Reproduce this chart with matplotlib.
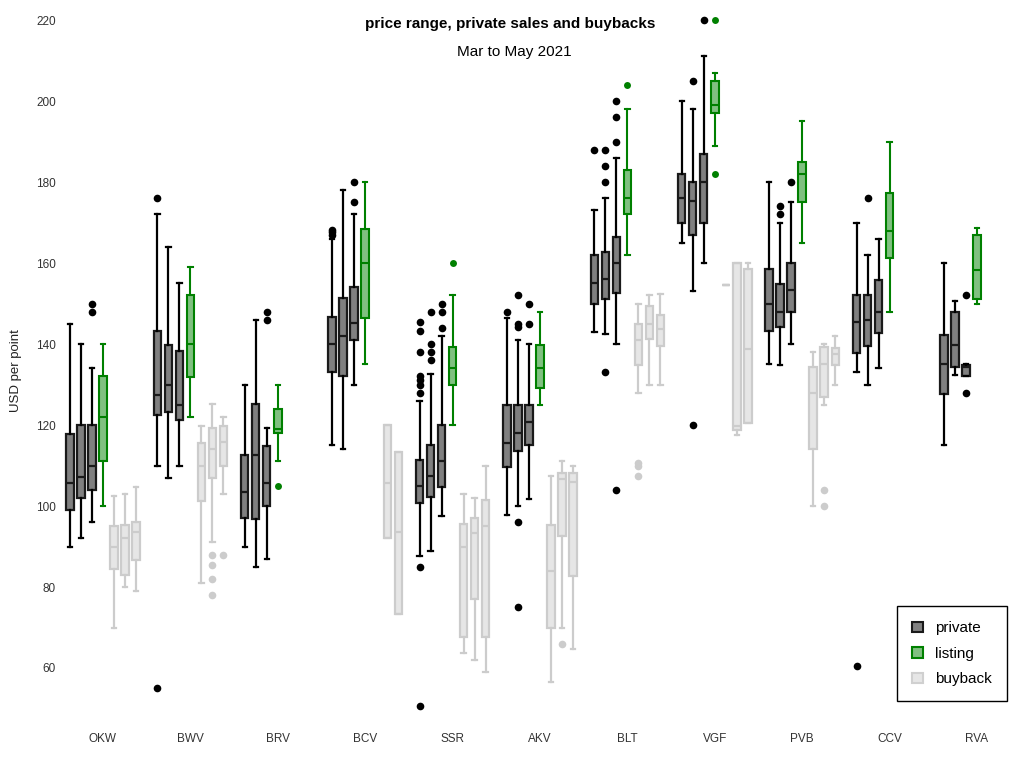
"""
Price range boxplots: private sales, listing and buybacks.
"""

import matplotlib
matplotlib.use("Agg")
import matplotlib.pyplot as plt
from matplotlib.patches import Patch

plt.rcParams['font.family'] = ['Liberation Sans', 'DejaVu Sans']

categories = ['OKW', 'BWV', 'BRV', 'BCV', 'SSR', 'AKV', 'BLT', 'VGF', 'PVB', 'CCV', 'RVA']

# (category, month 0=Mar 1=Apr 2=May, whislo, q1, median, q3, whishi)
private_boxes = [
    ('OKW', 0, 90, 99, 105.8, 117.8, 145),
    ('OKW', 1, 92, 102, 107.2, 120, 140),
    ('OKW', 2, 96, 104, 110, 120, 134),
    ('BWV', 0, 110, 122.5, 127.3, 143.1, 172),
    ('BWV', 1, 107, 123.3, 130, 139.8, 164),
    ('BWV', 2, 110, 121.2, 125, 138.3, 155),
    ('BRV', 0, 90, 97, 103.4, 112.5, 130),
    ('BRV', 1, 85, 96.8, 112.7, 125.2, 146),
    ('BRV', 2, 87, 100, 105.8, 114.8, 119.2),
    ('BCV', 0, 115, 133.2, 140, 146.7, 166),
    ('BCV', 1, 114, 132, 142, 151.4, 178),
    ('BCV', 2, 130, 141, 145.2, 154, 172),
    ('SSR', 0, 87.7, 100.8, 105, 111.4, 126),
    ('SSR', 1, 89, 102.2, 107.3, 115, 132.7),
    ('SSR', 2, 97.6, 104.8, 111, 120, 142),
    ('AKV', 0, 97.8, 109.7, 115.6, 125, 146.5),
    ('AKV', 1, 100, 113.6, 118, 125, 141),
    ('AKV', 2, 101.7, 115, 120.7, 125, 140),
    ('BLT', 0, 143, 150, 155, 162, 173),
    ('BLT', 1, 142.4, 151, 156, 162.6, 176),
    ('BLT', 2, 140, 152.5, 160, 166.4, 186),
    ('VGF', 0, 165, 170, 176, 182, 200),
    ('VGF', 1, 153, 167, 175.4, 180, 198),
    ('VGF', 2, 160, 170, 180, 187, 211),
    ('PVB', 0, 135, 143.1, 150, 158.5, 180),
    ('PVB', 1, 134.8, 144.3, 148, 154.8, 170),
    ('PVB', 2, 140, 148, 153.3, 160, 175),
    ('CCV', 0, 133, 137.8, 145.5, 152, 170),
    ('CCV', 1, 130, 139.6, 146, 152, 162),
    ('CCV', 2, 134, 142.8, 148, 155.8, 166),
    ('RVA', 0, 115, 127.6, 135, 142.2, 160),
    ('RVA', 1, 132.3, 134.2, 139.8, 147.8, 150.5),
    ('RVA', 2, 132, 132.2, 134.2, 134.8, 135),
]
private_fliers = {
    ('OKW', 2): [148, 150],
    ('BWV', 0): [176, 55],
    ('BRV', 2): [146, 148],
    ('BCV', 0): [167, 167.6, 168.2],
    ('BCV', 2): [175, 180],
    ('SSR', 0): [145.5, 143.2, 138, 132, 131, 130, 128, 85, 50.5],
    ('SSR', 1): [148, 140, 138, 136],
    ('SSR', 2): [144, 148, 150],
    ('AKV', 0): [148],
    ('AKV', 1): [152, 145, 144.3, 96, 75],
    ('AKV', 2): [145, 150],
    ('BLT', 0): [188],
    ('BLT', 1): [188, 184, 180, 133],
    ('BLT', 2): [190, 196, 200, 104],
    ('VGF', 1): [205, 120],
    ('VGF', 2): [220],
    ('PVB', 1): [172, 174],
    ('PVB', 2): [180],
    ('CCV', 0): [60.5],
    ('CCV', 1): [176],
    ('RVA', 2): [152, 128],
}

# (category, whislo, q1, median, q3, whishi)
listing_boxes = [
    ('OKW', 100, 111, 122, 132, 140),
    ('BWV', 122, 131.8, 140, 152, 159),
    ('BRV', 111, 118, 119, 124, 130),
    ('BCV', 135, 146.4, 160, 168.4, 180),
    ('SSR', 120, 130, 134, 139.3, 152),
    ('AKV', 125, 129.2, 134, 139.8, 148),
    ('BLT', 162, 172, 176, 183, 198),
    ('VGF', 189, 197, 199, 205, 207),
    ('PVB', 165, 175, 182, 185, 195),
    ('CCV', 148, 161.3, 168, 177.4, 190),
    ('RVA', 150, 151, 158.3, 167, 168.6),
]
listing_fliers = {
    'BRV': [105],
    'SSR': [160],
    'BLT': [204],
    'VGF': [220, 182],
}

# (category, month, whislo, q1, median, q3, whishi)
buyback_boxes = [
    ('OKW', 0, 70, 84.5, 90, 95, 102.5),
    ('OKW', 1, 80, 83, 92, 95.3, 103),
    ('OKW', 2, 79, 86.7, 93.7, 96, 104.6),
    ('BWV', 0, 81, 101.3, 110, 115.5, 119.8),
    ('BWV', 1, 91, 106.8, 114.1, 119.3, 125.2),
    ('BWV', 2, 103, 110, 115.8, 119.8, 122),
    ('BCV', 1, 92, 92, 105.8, 120, 120),
    ('BCV', 2, 73.3, 73.3, 93.5, 113.4, 113.4),
    ('SSR', 0, 63.8, 67.7, 90, 95.6, 103),
    ('SSR', 1, 62, 77, 93.3, 97, 102),
    ('SSR', 2, 59, 67.7, 95, 101.5, 110),
    ('AKV', 0, 56.5, 70, 84, 95.2, 107.5),
    ('AKV', 1, 69.8, 92.6, 106.6, 108.2, 111),
    ('AKV', 2, 64.8, 82.7, 106, 108.2, 110),
    ('BLT', 0, 128, 134.8, 141, 145, 150),
    ('BLT', 1, 130, 141.2, 145, 149.4, 152),
    ('BLT', 2, 130, 139.5, 143.8, 147.2, 152.3),
    ('VGF', 0, 154.5, 154.5, 154.5, 154.5, 154.5),
    ('VGF', 1, 117.5, 118.8, 119.8, 160, 160),
    ('VGF', 2, 120.6, 120.6, 138.8, 158.4, 160),
    ('PVB', 0, 100, 114, 127.8, 134.2, 138),
    ('PVB', 1, 125, 127, 135, 139.3, 140),
    ('PVB', 2, 130, 134.8, 137.5, 139, 142),
]
buyback_fliers = {
    ('BWV', 1): [88, 85.5, 82, 78],
    ('BWV', 2): [88],
    ('AKV', 1): [66],
    ('BLT', 0): [110.7, 110, 107.3],
    ('PVB', 1): [104, 100],
}

STEP = 0.126   # distance between neighbouring boxes
WIDTH = 0.085  # box width


def to_stats(whislo, q1, med, q3, whishi, fliers):
    return {'whislo': whislo, 'q1': q1, 'med': med, 'q3': q3,
            'whishi': whishi, 'fliers': fliers}


def draw(ax, stats, positions, face, edge, whisker, flier, lw, ms):
    ax.bxp(stats, positions=positions, widths=WIDTH, patch_artist=True,
           manage_ticks=False, capwidths=0.05,
           boxprops=dict(facecolor=face, edgecolor=edge, linewidth=lw),
           medianprops=dict(color=edge, linewidth=lw),
           whiskerprops=dict(color=whisker, linewidth=lw),
           capprops=dict(color=whisker, linewidth=lw),
           flierprops=dict(marker='o', markerfacecolor=flier,
                           markeredgecolor='none', markersize=ms))


def main():
    fig = plt.figure(figsize=(10.24, 7.68), dpi=100)
    ax = fig.add_axes([60 / 1024, 48 / 768, 955 / 1024, 708 / 768])

    # buyback first so the others sit on top
    stats, pos = [], []
    for cat, m, lo, q1, med, q3, hi in buyback_boxes:
        stats.append(to_stats(lo, q1, med, q3, hi, buyback_fliers.get((cat, m), [])))
        pos.append(categories.index(cat) + (m + 1) * STEP)
    draw(ax, stats, pos, '#e6e6e6', '#cccccc', '#cccccc', '#cccccc', 1.6, 5.5)

    stats, pos = [], []
    for cat, m, lo, q1, med, q3, hi in private_boxes:
        stats.append(to_stats(lo, q1, med, q3, hi, private_fliers.get((cat, m), [])))
        pos.append(categories.index(cat) + (m - 3) * STEP)
    draw(ax, stats, pos, '#808080', '#1a1a1a', '#000000', '#000000', 1.6, 5.5)

    stats, pos = [], []
    for cat, lo, q1, med, q3, hi in listing_boxes:
        stats.append(to_stats(lo, q1, med, q3, hi, listing_fliers.get(cat, [])))
        pos.append(categories.index(cat))
    draw(ax, stats, pos, '#80c080', '#008000', '#008000', '#008000', 1.5, 5)

    ax.set_xlim(-0.492, 10.435)
    ax.set_ylim(47.16, 221.98)
    ax.set_xticks(range(len(categories)))
    ax.set_xticklabels(categories)
    ax.set_yticks(range(60, 221, 20))
    ax.tick_params(axis='both', length=0, labelsize=8.5, labelcolor='#333333')
    ax.tick_params(axis='x', pad=9)
    ax.tick_params(axis='y', pad=3)
    for spine in ax.spines.values():
        spine.set_visible(False)

    ax.set_ylabel("USD per point", fontsize=9.5, color='#222222')
    ax.yaxis.set_label_coords(-0.040, 0.494)

    fig.text(510 / 1024, 1 - 24 / 768, "price range, private sales and buybacks",
             ha='center', va='center', fontsize=11, fontweight='bold')
    fig.text(514 / 1024, 1 - 52 / 768, "Mar to May 2021",
             ha='center', va='center', fontsize=11)

    handles = [
        Patch(facecolor='#808080', edgecolor='#1a1a1a', linewidth=1.5, label='private'),
        Patch(facecolor='#80c080', edgecolor='#008000', linewidth=1.5, label='listing'),
        Patch(facecolor='#e6e6e6', edgecolor='#d0d0d0', linewidth=1.5, label='buyback'),
    ]
    leg = fig.legend(handles=handles, loc='upper left',
                     bbox_to_anchor=(897 / 1024, 1 - 606 / 768),
                     bbox_transform=fig.transFigure, fontsize=11,
                     handlelength=0.7, handleheight=0.7, handletextpad=0.8,
                     labelspacing=0.75, borderpad=1.0, borderaxespad=0,
                     fancybox=False, framealpha=1)
    leg.get_frame().set_edgecolor('black')
    leg.get_frame().set_linewidth(1)

    fig.savefig("out.png", dpi=100)


if __name__ == "__main__":
    main()
